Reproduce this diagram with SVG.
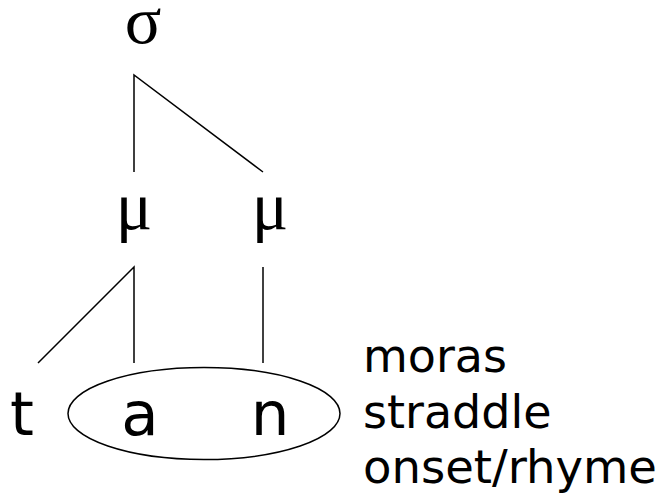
<svg xmlns="http://www.w3.org/2000/svg" width="664" height="495" viewBox="0 0 664 495">
<style>
.ln{stroke:#000;stroke-width:1.5;fill:none}
.gr{font-family:"Liberation Serif","Times New Roman",serif;font-size:68px;fill:#000}
.seg{font-family:"DejaVu Sans","Verdana",sans-serif;font-size:61px;fill:#000}
.note{font-family:"DejaVu Sans","Verdana",sans-serif;font-size:46px;fill:#000}
</style>
<rect width="664" height="495" fill="#fff"/>
<g id="sigma"><text class="gr" x="143" y="43" text-anchor="middle">σ</text></g>
<g id="mu1"><text class="gr" x="134" y="229" text-anchor="middle">μ</text></g>
<g id="mu2"><text class="gr" x="270" y="229" text-anchor="middle">μ</text></g>
<g id="t"><text class="seg" x="22" y="435" text-anchor="middle">t</text></g>
<g id="rhyme"><ellipse class="ln" cx="204" cy="413.5" rx="136" ry="46"/>
<text class="seg" x="140" y="435" text-anchor="middle">a</text>
<text class="seg" x="270" y="435" text-anchor="middle">n</text></g>
<g id="note"><text class="note" x="363" y="372">moras</text>
<text class="note" x="363" y="428">straddle</text>
<text class="note" x="363" y="483" textLength="294" lengthAdjust="spacingAndGlyphs">onset/rhyme</text></g>
<g id="connectors">
<polyline class="ln" points="134,172 134,75 263,172"/>
<polyline class="ln" points="38,363 134,267 134,363"/>
<line class="ln" x1="263" y1="267" x2="263" y2="363"/>
</g>
</svg>
